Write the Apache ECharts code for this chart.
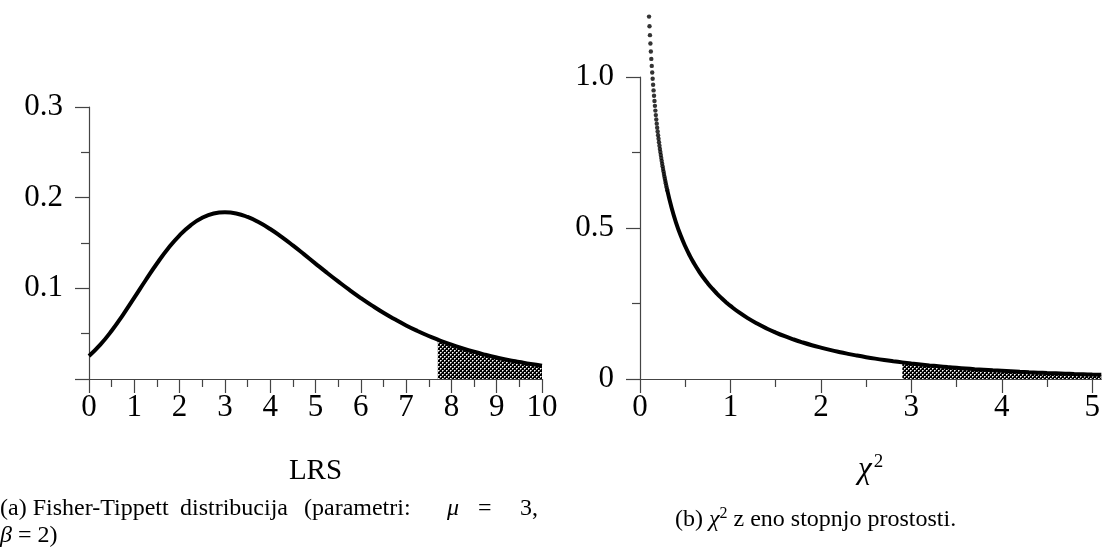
<!DOCTYPE html>
<html><head><meta charset="utf-8">
<script src="https://cdn.jsdelivr.net/npm/echarts@6/dist/echarts.min.js"></script>
<style>html,body{margin:0;padding:0;background:#fff}#c{width:1103px;height:547px}</style>
</head><body><div id="c"></div>
<script>
// ---- Panel (a): Fisher-Tippett (Gumbel) density ----
const gumbelX = [0,0.25,0.5,0.75,1,1.25,1.5,1.75,2,2.25,2.5,2.75,3,3.25,3.5,3.75,4,4.25,4.5,4.75,5,5.25,5.5,5.75,6,6.25,6.5,6.75,7,7.25,7.5,7.7,7.75,8,8.25,8.5,8.75,9,9.25,9.5,9.75,10];
const gumbelY = [0.0254,0.0379,0.0532,0.0708,0.0897,0.1089,0.1274,0.1442,0.1585,0.1698,0.1778,0.1825,0.1839,0.1826,0.1787,0.1728,0.1654,0.1567,0.1473,0.1374,0.1273,0.1173,0.1076,0.0982,0.0893,0.0809,0.0730,0.0658,0.0591,0.0530,0.0474,0.0434,0.0424,0.0378,0.0337,0.0300,0.0267,0.0237,0.0210,0.0187,0.0165,0.0147];
const gumbelShadeFrom = 7.7;
const leftYTicks = [0.1, 0.2, 0.3];
const leftXTicks = [0,1,2,3,4,5,6,7,8,9,10];

// ---- Panel (b): chi-square (1 d.f.) density ----
const chiDotX = [0.100,0.105,0.110,0.115,0.120,0.125,0.130,0.135,0.140,0.145,0.150,0.155,0.160,0.165,0.170,0.175,0.180,0.185,0.190,0.195,0.200,0.205,0.210,0.215,0.220,0.225,0.230,0.235,0.240,0.245,0.250,0.255,0.260,0.265,0.270,0.275,0.280,0.285,0.290,0.295,0.300];
const chiDotY = [1.2000,1.1682,1.1385,1.1107,1.0846,1.0600,1.0368,1.0149,0.9941,0.9744,0.9556,0.9378,0.9207,0.9044,0.8887,0.8738,0.8594,0.8456,0.8323,0.8195,0.8072,0.7953,0.7838,0.7727,0.7620,0.7516,0.7415,0.7317,0.7223,0.7131,0.7041,0.6955,0.6870,0.6788,0.6708,0.6630,0.6554,0.6480,0.6408,0.6338,0.6269];
const chiLineX = [0.3,0.35,0.4,0.45,0.5,0.55,0.6,0.65,0.7,0.75,0.8,0.85,0.9,0.95,1.0,1.1,1.2,1.3,1.4,1.5,1.6,1.7,1.8,1.9,2.0,2.1,2.2,2.3,2.4,2.5,2.6,2.7,2.8,2.9,3.0,3.1,3.2,3.3,3.4,3.5,3.6,3.7,3.8,3.9,4.0,4.1,4.2,4.3,4.4,4.5,4.6,4.7,4.8,4.9,5.0,5.1];
const chiLineY = [0.6269,0.5661,0.5164,0.4749,0.4394,0.4086,0.3816,0.3575,0.3360,0.3166,0.2990,0.2829,0.2681,0.2545,0.2420,0.2195,0.1999,0.1827,0.1674,0.1539,0.1417,0.1308,0.1209,0.1119,0.1038,0.0963,0.0895,0.0833,0.0776,0.0723,0.0674,0.0629,0.0588,0.0550,0.0514,0.0481,0.0450,0.0422,0.0395,0.0371,0.0348,0.0326,0.0306,0.0287,0.0270,0.0254,0.0238,0.0224,0.0211,0.0198,0.0187,0.0176,0.0165,0.0156,0.0146,0.0138];
const chiShadeFrom = 2.9;
const rightXMax = 5.1;
const rightYTicks = [0, 0.5, 1.0];
const rightXTicks = [0,1,2,3,4,5];
const rightXMinorTicks = [0.5,1.5,2.5,3.5,4.5];

function pairs(xs, ys, from) {
  const out = [];
  for (let i = 0; i < xs.length; i++) if (from === undefined || xs[i] >= from - 1e-9) out.push([xs[i], ys[i]]);
  return out;
}

// cross-hatch pattern (staggered white dots on black)
const pat = document.createElement('canvas');
pat.width = 4; pat.height = 4;
(function(){
  const g = pat.getContext('2d');
  g.fillStyle = '#000'; g.fillRect(0,0,4,4);
  g.fillStyle = '#fff';
  g.fillRect(0,0,1,1); g.fillRect(2,2,1,1);
  g.fillStyle = '#9a9a9a';
  g.fillRect(1,0,1,1); g.fillRect(0,1,1,1); g.fillRect(3,2,1,1); g.fillRect(2,3,1,1);
})();

const FONT = '"Liberation Serif","DejaVu Serif",serif';
const axisCol = '#444';
const TICKFS = 31;
function axisCommon() {
  return {
    axisLine: {show: true, lineStyle: {color: axisCol, width: 1.2}},
    axisTick: {show: true, inside: false, length: 14, lineStyle: {color: axisCol, width: 1.2}},
    minorTick: {show: true, splitNumber: 2, length: 8, lineStyle: {color: axisCol, width: 1.2}},
    splitLine: {show: false},
    minorSplitLine: {show: false}
  };
}

const chart = echarts.init(document.getElementById('c'), null, {renderer: 'canvas'});
const opt = {
  animation: false,
  backgroundColor: '#fff',
  grid: [
    {left: 89, width: 453, top: 107, height: 272},
    {left: 640, width: 462.6, top: 77, height: 302}
  ],
  xAxis: [
    Object.assign(axisCommon(), {
      type: 'value', gridIndex: 0, min: leftXTicks[0], max: leftXTicks[leftXTicks.length-1], interval: 1,
      name: 'LRS', nameLocation: 'middle', nameGap: 78,
      nameTextStyle: {fontFamily: FONT, fontSize: 29, color: '#000'},
      axisLabel: {fontFamily: FONT, fontSize: TICKFS, color: '#000', margin: 13}
    }),
    Object.assign(axisCommon(), {
      type: 'value', gridIndex: 1, position: 'bottom', min: rightXTicks[0], max: rightXMax, interval: 1,
      name: '{c|χ}{s|2}', nameLocation: 'middle', nameGap: 74,
      nameTextStyle: {fontFamily: FONT, color: '#000',
        rich: {c: {fontFamily: FONT, fontSize: 31, fontStyle: 'italic', color: '#000', lineHeight: 34},
               s: {fontFamily: FONT, fontSize: 19, color: '#000', verticalAlign: 'top', lineHeight: 20, padding: [0,0,0,2]}}},
      axisTick: {show: true, inside: false, length: 14, lineStyle: {color: axisCol, width: 1.2}, customValues: rightXTicks},
      minorTick: {show: false},
      axisLabel: {fontFamily: FONT, fontSize: TICKFS, color: '#000', margin: 13, customValues: rightXTicks}
    }),
    {
      type: 'value', gridIndex: 1, position: 'bottom', offset: 0, min: rightXTicks[0], max: rightXMax,
      axisLine: {show: false}, axisLabel: {show: false}, splitLine: {show: false},
      axisTick: {show: true, inside: false, length: 8, lineStyle: {color: axisCol, width: 1.2}, customValues: rightXMinorTicks}
    }
  ],
  yAxis: [
    Object.assign(axisCommon(), {
      type: 'value', gridIndex: 0, min: 0, max: leftYTicks[leftYTicks.length-1], interval: 0.1,
      axisLabel: {fontFamily: FONT, fontSize: TICKFS, color: '#000', margin: 26,
        formatter: v => (Math.abs(v) < 1e-9 ? '' : v.toFixed(1))}
    }),
    Object.assign(axisCommon(), {
      type: 'value', gridIndex: 1, min: rightYTicks[0], max: rightYTicks[rightYTicks.length-1], interval: 0.5,
      axisLabel: {fontFamily: FONT, fontSize: TICKFS, color: '#000', margin: 26,
        formatter: v => (Math.abs(v) < 1e-9 ? '0' : v.toFixed(1))}
    })
  ],
  series: [
    {type: 'line', xAxisIndex: 0, yAxisIndex: 0, data: pairs(gumbelX, gumbelY, gumbelShadeFrom),
     smooth: true, showSymbol: false, lineStyle: {width: 0, opacity: 0},
     areaStyle: {color: {image: pat, repeat: 'repeat'}, opacity: 1}, z: 2},
    {type: 'line', xAxisIndex: 0, yAxisIndex: 0, data: pairs(gumbelX, gumbelY),
     smooth: true, showSymbol: false, lineStyle: {color: '#000', width: 4}, z: 3},
    {type: 'line', xAxisIndex: 1, yAxisIndex: 1, data: pairs(chiLineX, chiLineY, chiShadeFrom),
     smooth: true, showSymbol: false, lineStyle: {width: 0, opacity: 0},
     areaStyle: {color: {image: pat, repeat: 'repeat'}, opacity: 1}, z: 2},
    {type: 'line', xAxisIndex: 1, yAxisIndex: 1, data: pairs(chiLineX, chiLineY),
     smooth: true, showSymbol: false, clip: false, lineStyle: {color: '#000', width: 4}, z: 3},
    {type: 'scatter', xAxisIndex: 1, yAxisIndex: 1, data: pairs(chiDotX, chiDotY),
     symbol: 'circle', symbolSize: 4.4, clip: false, itemStyle: {color: '#000'}, z: 3}
  ],
  graphic: [
    {type: 'text', left: 0, top: 497, style: {text: '(a) Fisher-Tippett', fontFamily: FONT, fontSize: 24, fill: '#000'}},
    {type: 'text', left: 180, top: 497, style: {text: 'distribucija', fontFamily: FONT, fontSize: 24, fill: '#000'}},
    {type: 'text', left: 304, top: 497, style: {text: '(parametri:', fontFamily: FONT, fontSize: 24, fill: '#000'}},
    {type: 'text', left: 447, top: 497, style: {text: 'μ', fontFamily: FONT, fontSize: 24, fontStyle: 'italic', fill: '#000'}},
    {type: 'text', left: 478, top: 497, style: {text: '=', fontFamily: FONT, fontSize: 24, fill: '#000'}},
    {type: 'text', left: 520, top: 497, style: {text: '3,', fontFamily: FONT, fontSize: 24, fill: '#000'}},
    {type: 'text', left: 0, top: 524, style: {
      text: '{i|β} = 2)', fontFamily: FONT, fontSize: 24, fill: '#000',
      rich: {i: {fontFamily: FONT, fontSize: 24, fontStyle: 'italic', fill: '#000'}}}},
    {type: 'text', left: 675, top: 506, style: {
      text: '(b) {c|χ}{s|2} z eno stopnjo prostosti.', fontFamily: FONT, fontSize: 24, fill: '#000', lineHeight: 28,
      rich: {c: {fontFamily: FONT, fontSize: 24, fontStyle: 'italic', fill: '#000', lineHeight: 28},
             s: {fontFamily: FONT, fontSize: 16, fill: '#000', verticalAlign: 'top', lineHeight: 16}}}}
  ]
};
chart.setOption(opt);
</script></body></html>
